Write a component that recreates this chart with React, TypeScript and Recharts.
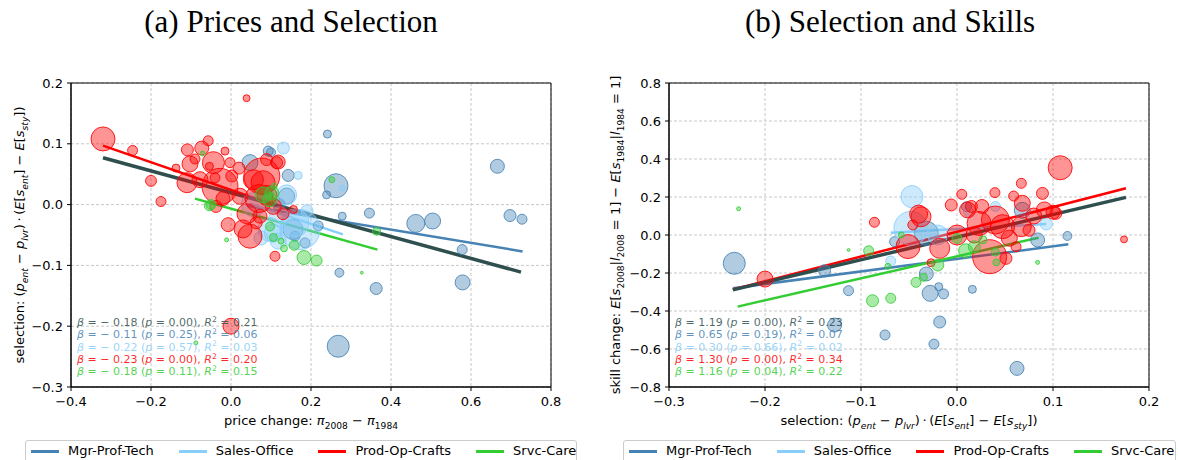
import { ScatterChart, Scatter, XAxis, YAxis, ZAxis, CartesianGrid, ReferenceLine, ReferenceArea } from 'recharts'

// groups, colours as in the original figure
const GROUPS = [
  { key: 'mgr', name: 'Mgr-Prof-Tech', color: '#4682b4' },
  { key: 'sales', name: 'Sales-Office', color: '#87cefa' },
  { key: 'prod', name: 'Prod-Op-Crafts', color: '#ff0000' },
  { key: 'srvc', name: 'Srvc-Care', color: '#32cd32' },
]
const ALL_COLOR = '#2f4f4f'

// ---- panel (a): [price change, selection, weight] ----
const mgrA = [
  [0.241, 0.116, 16], [0.666, 0.063, 49], [0.2625, 0.031, 144], [0.239, 0.016, 16], [0.278, -0.019, 16],
  [0.346, -0.014, 25], [0.462, -0.031, 81], [0.504, -0.027, 64], [0.6975, -0.018, 36], [0.7275, -0.024, 25],
  [0.578, -0.074, 25], [0.143, 0.048, 36], [0.271, -0.112, 20], [0.363, -0.138, 36], [0.579, -0.128, 56],
  [0.268, -0.233, 121], [0.0475, 0.069, 64], [0.093, 0.088, 25], [0.1, 0.086, 20], [0.139, 0.014, 64],
  [0.16, -0.052, 25], [0.185, -0.063, 25], [0.218, -0.035, 25], [0.155, -0.041, 100], [0.12, 0.0, 36],
]
const salesA = [
  [0.131, 0.093, 36], [0.168, 0.048, 16], [0.139, 0.016, 100], [0.1725, -0.041, 400], [0.0975, -0.041, 144],
  [0.118, -0.06, 64], [0.277, 0.027, 9], [0.056, 0.0, 144], [0.16, -0.03, 196], [0.106, -0.047, 81],
  [0.12, -0.02, 100], [0.09, 0.02, 49], [0.19, -0.01, 36], [0.075, -0.055, 49],
]
const prodA = [
  [-0.32, 0.108, 144], [-0.246, 0.089, 25], [-0.2, 0.039, 30], [-0.175, 0.005, 25], [-0.1375, 0.06, 16],
  [-0.109, 0.09, 36], [-0.1025, 0.067, 64], [-0.073, 0.093, 49], [-0.057, 0.105, 25], [-0.054, 0.063, 16],
  [-0.044, 0.069, 121], [-0.11, 0.036, 100], [-0.0775, 0.041, 64], [-0.0275, 0.03, 324], [-0.04, 0.044, 25],
  [-0.015, 0.088, 16], [-0.0025, 0.069, 25], [0.002, 0.047, 36], [0.039, 0.175, 12], [-0.0375, -0.003, 36],
  [-0.007, -0.033, 49], [0.0475, -0.052, 144], [0.0225, 0.0137, 64], [0.056, 0.041, 100], [0.08, 0.036, 144],
  [0.0725, -0.019, 49], [0.089, 0.074, 36], [0.114, 0.069, 36], [0.106, -0.003, 64], [0.11, -0.085, 25],
  [0.077, 0.047, 324], [0.118, 0.07, 49], [0.03, -0.04, 81], [0.04, -0.015, 100], [0.063, -0.03, 36],
  [0.156, -0.008, 16], [0.0, -0.2, 64], [0.07, 0.01, 196], [0.09, 0.015, 100], [-0.09, 0.075, 25],
  [0.13, -0.015, 36], [0.02, 0.06, 36], [-0.02, 0.01, 49],
]
const srvcA = [
  [-0.054, -0.002, 25], [-0.011, -0.058, 4], [-0.071, 0.084, 6], [0.102, 0.019, 49], [0.108, 0.03, 9],
  [0.106, -0.054, 16], [0.1325, -0.072, 12], [0.158, -0.067, 25], [0.081, 0.016, 64], [0.097, 0.008, 49],
  [0.0975, -0.036, 20], [0.1825, -0.087, 49], [0.214, -0.092, 30], [0.252, 0.041, 9], [0.327, -0.112, 2],
  [0.364, -0.044, 16], [-0.088, -0.2275, 4], [-0.05, 0.0, 25], [0.125, -0.06, 9],
]
// fitted lines, [x, y] at both ends
const fitA = {
  all: [[-0.32, 0.077], [0.725, -0.111]],
  mgr: [[0.04, -0.002], [0.729, -0.077]],
  sales: [[0.0475, 0.0016], [0.28, -0.049]],
  prod: [[-0.32, 0.097], [0.165, -0.0134]],
  srvc: [[-0.09, 0.0099], [0.366, -0.074]],
}
const statsA = [
  { key: 'all', beta: -0.18, p: 0.0, r2: 0.21 },
  { key: 'mgr', beta: -0.11, p: 0.25, r2: 0.06 },
  { key: 'sales', beta: -0.22, p: 0.57, r2: 0.03 },
  { key: 'prod', beta: -0.23, p: 0.0, r2: 0.2 },
  { key: 'srvc', beta: -0.18, p: 0.11, r2: 0.15 },
]

// ---- panel (b): [selection, skill change, weight] ----
const mgrB = [
  [-0.232, -0.149, 121], [-0.138, -0.188, 36], [-0.113, -0.293, 25], [-0.1275, -0.474, 49], [-0.075, -0.526, 25],
  [-0.032, -0.205, 49], [-0.028, -0.307, 64], [-0.019, -0.272, 16], [-0.014, -0.31, 25], [0.016, -0.286, 16],
  [-0.018, -0.458, 36], [-0.024, -0.574, 25], [0.0625, -0.702, 49], [0.115, -0.005, 20], [0.084, -0.026, 49],
  [-0.032, 0.009, 144], [-0.065, -0.035, 25], [0.068, 0.13, 64], [0.01, 0.149, 25],
]
const salesB = [
  [-0.047, 0.202, 121], [-0.048, 0.035, 289], [-0.069, -0.137, 25], [0.093, 0.058, 36], [0.012, 0.12, 25],
  [-0.02, 0.0, 100], [0.04, 0.15, 25],
]
const prodB = [
  [-0.2, -0.232, 64], [-0.086, 0.067, 25], [0.1075, 0.354, 144], [0.174, -0.023, 12], [0.067, 0.272, 25],
  [0.089, 0.219, 36], [0.0395, 0.223, 25], [0.005, 0.214, 25], [-0.006, 0.158, 36], [0.059, 0.205, 25],
  [0.068, 0.167, 64], [-0.0375, 0.096, 100], [-0.051, -0.061, 144], [-0.018, -0.07, 100], [0.034, -0.114, 289],
  [0.04, 0.079, 196], [0.023, 0.061, 144], [0.011, 0.132, 64], [0.091, 0.132, 64], [0.103, 0.114, 36],
  [-0.046, 0.053, 25], [-0.027, -0.146, 16], [0.0615, -0.062, 25], [0.051, -0.123, 36], [0.0475, 0.044, 144],
  [0.0545, -0.017, 64], [0.067, 0.044, 100], [0.0, 0.0, 100], [0.015, 0.15, 36], [0.026, 0.15, 49],
  [0.1, 0.12, 49], [0.08, 0.1, 64], [0.075, 0.025, 36], [0.018, 0.0, 64], [-0.04, 0.11, 81],
]
const srvcB = [
  [-0.2275, 0.138, 4], [-0.092, -0.083, 25], [-0.113, -0.079, 2], [-0.088, -0.346, 36], [-0.069, -0.333, 25],
  [-0.072, -0.165, 9], [-0.0427, -0.249, 25], [-0.035, -0.223, 16], [0.041, -0.144, 12], [0.084, -0.144, 4],
  [-0.02, -0.158, 36], [0.009, -0.083, 49], [0.018, -0.062, 36], [0.027, -0.026, 16], [-0.058, 0.0, 9],
  [0.0, -0.018, 25], [0.04, -0.09, 16],
]
const fitB = {
  all: [[-0.2335, -0.289], [0.176, 0.198]],
  mgr: [[-0.2335, -0.28], [0.116, -0.049]],
  sales: [[-0.069, 0.012], [0.093, 0.058]],
  prod: [[-0.2335, -0.287], [0.176, 0.246]],
  srvc: [[-0.2285, -0.377], [0.085, -0.014]],
}
const statsB = [
  { key: 'all', beta: 1.19, p: 0.0, r2: 0.23 },
  { key: 'mgr', beta: 0.65, p: 0.19, r2: 0.07 },
  { key: 'sales', beta: 0.3, p: 0.66, r2: 0.02 },
  { key: 'prod', beta: 1.3, p: 0.0, r2: 0.34 },
  { key: 'srvc', beta: 1.16, p: 0.04, r2: 0.22 },
]

// axis text, [text, style]: n normal, i italic, sub italic subscript, subn upright subscript, sup superscript
const selectionLabel = [
  ['selection: ('], ['p', 'i'], ['ent', 'sub'], [' \u2212 '], ['p', 'i'], ['lvr', 'sub'], [')\u2009\u00b7\u2009('],
  ['E', 'i'], ['['], ['s', 'i'], ['ent', 'sub'], ['] \u2212 '], ['E', 'i'], ['['], ['s', 'i'], ['sty', 'sub'], ['])'],
]
const priceLabel = [['price change: '], ['\u03c0', 'i'], ['2008', 'subn'], [' \u2212 '], ['\u03c0', 'i'], ['1984', 'subn']]
const skillLabel = [
  ['skill change: '], ['E', 'i'], ['['], ['s', 'i'], ['2008', 'subn'], ['|'], ['l', 'i'], ['2008', 'subn'], [' = 1] \u2212 '],
  ['E', 'i'], ['['], ['s', 'i'], ['1984', 'subn'], ['|'], ['l', 'i'], ['1984', 'subn'], [' = 1]'],
]

const W = 589
const H = 460
const PT = 83
const PH = 304
const PW = 480
const FONT = '"DejaVu Sans", sans-serif'

const colorOf = (k: string) => (k === 'all' ? ALL_COLOR : GROUPS.find((g) => g.key === k)!.color)
const toPts = (arr: number[][]) => arr.map(([x, y, z]) => ({ x, y, z }))
const fmt = (v: number) => v.toFixed(1).replace('-', '\u2212')

function MathText({ parts, x, y, size, fill = '#000', rotate = false, anchor = 'middle', opacity = 1 }: any) {
  let shift = 0
  const spans = parts.map(([t, s = 'n']: string[], i: number) => {
    const target = s.startsWith('sub') ? size * 0.28 : s === 'sup' ? -size * 0.38 : 0
    const dy = target - shift
    shift = target
    const small = s !== 'n' && s !== 'i'
    const italic = s === 'i' || s === 'sub'
    return (
      <tspan key={i} dy={dy} fontStyle={italic ? 'italic' : 'normal'} fontSize={small ? size * 0.7 : size}>
        {t}
      </tspan>
    )
  })
  return (
    <text
      x={x}
      y={y}
      fill={fill}
      fillOpacity={opacity}
      fontFamily={FONT}
      fontSize={size}
      textAnchor={anchor}
      style={{ whiteSpace: 'pre' }}
      transform={rotate ? `rotate(-90 ${x} ${y})` : undefined}
    >
      {spans}
    </text>
  )
}

function statParts(s: any) {
  const b = `${s.beta < 0 ? '\u2212 ' : ''}${Math.abs(s.beta).toFixed(2)}`
  return [['\u03b2', 'i'], [` = ${b} (`], ['p', 'i'], [` = ${s.p.toFixed(2)}), `], ['R', 'i'], ['2', 'sup'], [` = ${s.r2.toFixed(2)}`]]
}

function Panel({ left, pl, title, titleX, series, fits, stats, xDomain, xTicks, yDomain, yTicks, xLabel, yLabel, yLabelX }: any) {
  return (
    <div style={{ position: 'absolute', left, top: 0, width: W, height: H }}>
      <div
        style={{
          position: 'absolute', left: titleX - left - 200, top: 3, width: 400, textAlign: 'center',
          fontFamily: '"Liberation Serif", serif', fontSize: 31, lineHeight: '38px', color: '#000',
        }}
      >
        {title}
      </div>
      <ScatterChart width={W} height={H} margin={{ top: PT, right: W - pl - PW, bottom: H - PT - PH - 30, left: 0 }}>
        <CartesianGrid stroke="#c8c8c8" strokeDasharray="3 2" />
        <XAxis
          type="number" dataKey="x" domain={xDomain} ticks={xTicks} tickFormatter={fmt} height={30}
          tick={{ fill: '#000', fontSize: 13, fontFamily: FONT }} tickLine={{ stroke: '#000' }}
          axisLine={{ stroke: '#000' }} tickSize={4} tickMargin={6} allowDataOverflow
        />
        <YAxis
          type="number" dataKey="y" domain={yDomain} ticks={yTicks} tickFormatter={fmt} width={pl}
          tick={{ fill: '#000', fontSize: 13, fontFamily: FONT }} tickLine={{ stroke: '#000' }}
          axisLine={{ stroke: '#000' }} tickSize={4} tickMargin={4} allowDataOverflow
        />
        <ZAxis type="number" dataKey="z" domain={[0, 400]} range={[0, 400 * Math.PI]} />
        <ReferenceArea
          x1={xDomain[0]} x2={xDomain[1]} y1={yDomain[0]} y2={yDomain[1]}
          fill="none" fillOpacity={0} stroke="#000" strokeWidth={1} ifOverflow="visible"
        />
        {GROUPS.map((g) => (
          <Scatter
            key={g.key} name={g.name} data={toPts(series[g.key])} fill={g.color} fillOpacity={0.42}
            stroke={g.color} strokeOpacity={0.85} strokeWidth={1} isAnimationActive={false}
          />
        ))}
        {['mgr', 'sales', 'prod', 'srvc', 'all'].map((k) => (
          <ReferenceLine
            key={k}
            segment={[{ x: fits[k][0][0], y: fits[k][0][1] }, { x: fits[k][1][0], y: fits[k][1][1] }]}
            stroke={colorOf(k)} strokeWidth={k === 'all' ? 3.5 : 2.5} ifOverflow="visible"
          />
        ))}
      </ScatterChart>
      <svg width={W} height={H} style={{ position: 'absolute', left: 0, top: 0, pointerEvents: 'none' }}>
        <MathText parts={yLabel} x={yLabelX} y={PT + PH / 2} size={13} rotate />
        <MathText parts={xLabel} x={pl + PW / 2} y={425} size={13} />
        {stats.map((s: any, i: number) => (
          <MathText
            key={s.key} parts={statParts(s)} x={pl + 6} y={326 + i * 12.3} size={11}
            anchor="start" fill={colorOf(s.key)} opacity={0.85}
          />
        ))}
      </svg>
    </div>
  )
}

function LegendBox({ left, width }: { left: number; width: number }) {
  return (
    <div
      style={{
        position: 'absolute', left, top: 440, width, height: 30, boxSizing: 'border-box',
        border: '1px solid #cccccc', borderRadius: 3, display: 'flex', alignItems: 'flex-start',
        paddingLeft: 5, paddingTop: 2, fontFamily: FONT, fontSize: 13, lineHeight: '16px', color: '#000',
      }}
    >
      {GROUPS.map((g) => (
        <div key={g.key} style={{ display: 'flex', alignItems: 'center', marginRight: 25 }}>
          <div style={{ width: 28, height: 3, background: g.color }} />
          <span style={{ marginLeft: 9, whiteSpace: 'nowrap' }}>{g.name}</span>
        </div>
      ))}
    </div>
  )
}

export default function App() {
  return (
    <div style={{ position: 'absolute', left: 0, top: 0, width: 1178, height: 460, background: '#fff', overflow: 'hidden' }}>
      <Panel
        left={0} pl={71} title="(a) Prices and Selection" titleX={291}
        series={{ mgr: mgrA, sales: salesA, prod: prodA, srvc: srvcA }} fits={fitA} stats={statsA}
        xDomain={[-0.4, 0.8]} xTicks={[-0.4, -0.2, 0, 0.2, 0.4, 0.6, 0.8]}
        yDomain={[-0.3, 0.2]} yTicks={[-0.3, -0.2, -0.1, 0, 0.1, 0.2]}
        xLabel={priceLabel} yLabel={selectionLabel} yLabelX={24}
      />
      <Panel
        left={589} pl={80} title="(b) Selection and Skills" titleX={890}
        series={{ mgr: mgrB, sales: salesB, prod: prodB, srvc: srvcB }} fits={fitB} stats={statsB}
        xDomain={[-0.3, 0.2]} xTicks={[-0.3, -0.2, -0.1, 0, 0.1, 0.2]}
        yDomain={[-0.8, 0.8]} yTicks={[-0.8, -0.6, -0.4, -0.2, 0, 0.2, 0.4, 0.6, 0.8]}
        xLabel={selectionLabel} yLabel={skillLabel} yLabelX={31}
      />
      <LegendBox left={25} width={552} />
      <LegendBox left={623} width={553} />
    </div>
  )
}
